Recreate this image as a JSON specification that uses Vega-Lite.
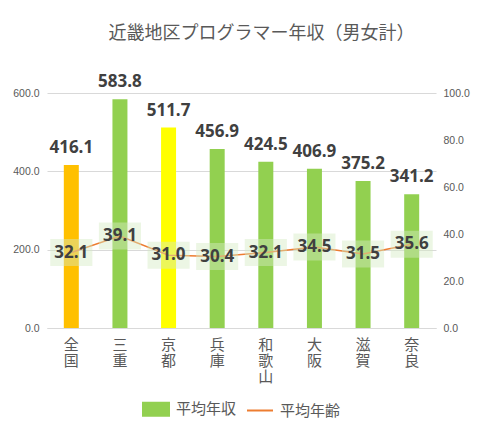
{
  "$schema": "https://vega.github.io/schema/vega-lite/v6.json",
  "width": 389,
  "height": 235,
  "autosize": {"type": "none"},
  "padding": {"left": 47, "top": 93, "right": 46, "bottom": 104},
  "background": "white",
  "title": {"text": "近畿地区プログラマー年収（男女計）", "font": "Noto Sans CJK JP", "fontSize": 18, "fontWeight": "normal", "color": "#595959", "offset": 30, "dx": 20},
  "config": {"view": {"stroke": null}, "font": "Noto Sans CJK JP"},
  "data": {"values": [
    {"pref": "全国", "income": 416.1, "age": 32.1},
    {"pref": "三重", "income": 583.8, "age": 39.1},
    {"pref": "京都", "income": 511.7, "age": 31.0},
    {"pref": "兵庫", "income": 456.9, "age": 30.4},
    {"pref": "和歌山", "income": 424.5, "age": 32.1},
    {"pref": "大阪", "income": 406.9, "age": 34.5},
    {"pref": "滋賀", "income": 375.2, "age": 31.5},
    {"pref": "奈良", "income": 341.2, "age": 35.6}
  ]},
  "layer": [
    {
      "layer": [
        {
          "mark": {"type": "bar", "size": 15},
          "encoding": {
            "x": {"field": "pref", "type": "nominal", "sort": null, "title": null,
              "axis": {"labelAngle": 0, "labelExpr": "split(datum.label, '')", "labelFontSize": 15, "labelColor": "#595959", "labelLineHeight": 16, "labelBaseline": "top", "labelPadding": 9, "ticks": false, "domainColor": "#D9D9D9", "labelFont": "Noto Sans CJK JP"}},
            "y": {"field": "income", "type": "quantitative", "scale": {"domain": [0, 600]}, "title": null,
              "axis": {"values": [0, 200, 400, 600], "format": ".1f", "gridColor": "#D9D9D9", "domain": false, "ticks": false, "labelColor": "#595959", "labelFontSize": 10.5, "labelPadding": 8, "labelFont": "Liberation Sans"}},
            "color": {
              "condition": [{"test": "datum.pref === '全国'", "value": "#FFC000"}, {"test": "datum.pref === '京都'", "value": "#FFFF00"}],
              "datum": "平均年収",
              "scale": {"domain": ["平均年収", "平均年齢"], "range": ["#92D050", "#ED7D31"]},
              "legend": {"orient": "none", "legendX": 95, "legendY": 302, "direction": "horizontal", "title": null, "labelFontSize": 15, "labelColor": "#595959", "labelFont": "Noto Sans CJK JP", "symbolSize": 676, "columnPadding": 6, "labelOffset": 6,
                "encode": {"symbols": {"update": {
                  "shape": {"signal": "datum.value === '平均年齢' ? 'M-1,0H1' : 'M-1,-0.5H1V0.5H-1Z'"},
                  "fill": {"signal": "datum.value === '平均年齢' ? 'transparent' : '#92D050'"},
                  "stroke": {"signal": "datum.value === '平均年齢' ? '#ED7D31' : 'transparent'"},
                  "strokeWidth": {"value": 2},
                  "opacity": {"value": 1}
                }}}}}
          }
        },
        {
          "mark": {"type": "text", "baseline": "bottom", "dy": -8, "font": "Open Sans", "fontSize": 17, "fontWeight": "bold", "color": "#404040"},
          "encoding": {
            "x": {"field": "pref", "type": "nominal", "sort": null},
            "y": {"field": "income", "type": "quantitative"},
            "text": {"field": "income", "type": "quantitative", "format": ".1f"}
          }
        }
      ]
    },
    {
      "layer": [
        {
          "mark": {"type": "line", "strokeWidth": 1.5},
          "encoding": {
            "x": {"field": "pref", "type": "nominal", "sort": null},
            "y": {"field": "age", "type": "quantitative", "scale": {"domain": [0, 100]}, "title": null,
              "axis": {"orient": "right", "values": [0, 20, 40, 60, 80, 100], "format": ".1f", "grid": false, "domain": false, "ticks": false, "labelColor": "#595959", "labelFontSize": 10.5, "labelPadding": 7, "labelFont": "Liberation Sans"}},
            "color": {"datum": "平均年齢"}
          }
        },
        {
          "mark": {"type": "point", "shape": "M-1.56,-1H1.56V1H-1.56Z", "size": 729, "filled": true, "fill": "#D5EBC3", "opacity": 0.45, "strokeWidth": 0},
          "encoding": {
            "x": {"field": "pref", "type": "nominal", "sort": null},
            "y": {"field": "age", "type": "quantitative"}
          }
        },
        {
          "mark": {"type": "text", "baseline": "middle", "font": "Open Sans", "fontSize": 17, "fontWeight": "bold", "color": "#404040"},
          "encoding": {
            "x": {"field": "pref", "type": "nominal", "sort": null},
            "y": {"field": "age", "type": "quantitative"},
            "text": {"field": "age", "type": "quantitative", "format": ".1f"}
          }
        }
      ]
    }
  ],
  "resolve": {"scale": {"y": "independent"}}
}
